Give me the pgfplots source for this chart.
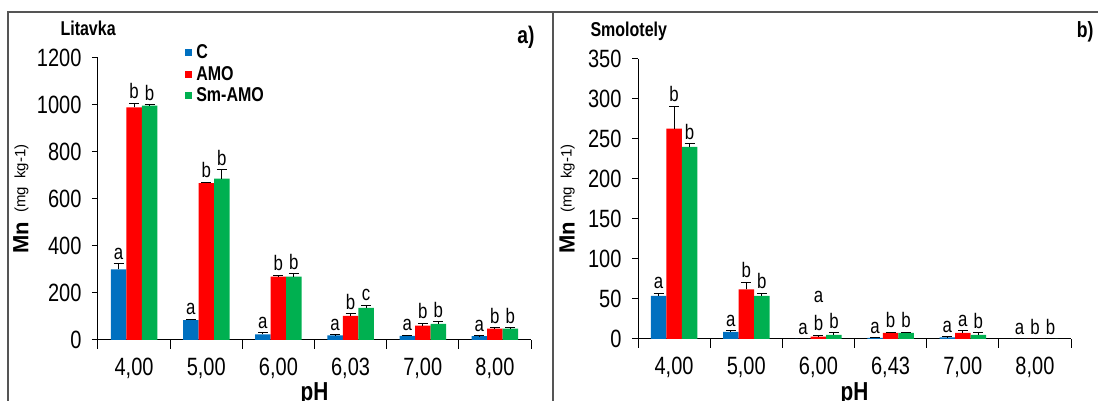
\documentclass[border=0pt]{standalone}
\usepackage{fontspec}
\setmainfont{Liberation Sans}[FakeStretch=0.8]
\newfontfamily\uprightlabel{Liberation Sans}
\usepackage{pgfplots}
\usepackage{pgfplotstable}
\pgfplotsset{compat=1.18}

\definecolor{cblue}{RGB}{0,112,192}
\definecolor{cred}{RGB}{255,0,0}
\definecolor{cgreen}{RGB}{0,176,80}
\definecolor{framegray}{RGB}{85,85,85}

\newcommand\fs[1]{\fontsize{#1}{#1}\selectfont}
% two letters stacked over one bar
\newcommand\stackab{\shortstack{a\\[10pt]b}}

% Litavka: mean, upper error and letter of each treatment
\pgfplotstableread{
x C Ce Cl A Ae Al S Se Sl
0 300 25 a 990 17 b 997 4 b
1 85 4 a 668 4 b 687 38 b
2 24 6 a 270 6 b 270 12 b
3 20 2 a 103 10 b 137 11 c
4 18 2 a 61 10 b 69 10 b
5 16 2 a 48 4 b 48 4 b
}\litavka

% Smolotely
\pgfplotstableread{
x C Ce Cl A Ae Al S Se Sl
0 54 3 a 263 28 b 240 4 b
1 9 1 a 62 9 b 54 3 b
2 0 0 a 3 1.5 {\stackab} 5 2.5 b
3 1.5 0 a 7.5 1 b 7.5 1 b
4 2 0.5 a 7.5 2.5 a 5 3 b
5 0 0 a 0 0 b 0 0 b
}\smolotely

\pgfplotsset{
  panel/.style={
    scale only axis, width=433pt,
    ybar=0pt, bar width=15.5pt,
    xmin=-0.5, xmax=5.5, ymin=0,
    axis x line=bottom, axis y line=left,
    axis line style={-, line width=1pt, black},
    tick align=outside,
    xtick={0,...,5}, minor xtick={-0.5,0.5,...,5.5},
    major x tick style={draw=none},
    tick style={black, line width=1pt},
    major tick length=6pt, minor tick length=9pt,
    /pgf/number format/assume math mode=true,
    /pgf/number format/1000 sep={},
    yticklabel style={font=\fs{25}, xshift=-7pt},
    xticklabel style={font=\fs{25}, yshift=-9pt},
    xlabel={pH},
    every axis y label/.style={rotate=90, anchor=center},
    clip=false,
  },
  % bar with upper error bar and the letter set just above it
  mnbar/.style n args={3}{fill=#1, draw=none,
    nodes near coords, point meta=explicit symbolic,
    nodes near coords align={anchor=south},
    visualization depends on={\thisrow{#2} \as \myerr},
    every node near coord/.append style={font=\fs{21}, inner sep=0pt,
      shift={(axis direction cs:0,\myerr)}, yshift=4pt},
    error bars/.cd, y dir=plus, y explicit,
    error bar style={black, line width=1pt},
    error mark options={rotate=90, black, mark size=5pt, line width=1pt}},
}

\newcommand\mnlabel{{\uprightlabel\bfseries\fs{22}Mn}\hspace{9pt}{\uprightlabel\fs{15}\raisebox{3pt}{(mg~~kg-1)}}}

\begin{document}
\begin{tikzpicture}
\useasboundingbox (0,0) rectangle (1098pt,401pt);
\clip (0,0) rectangle (1098pt,401pt);

% panel frames
\draw[framegray, line width=1.5pt] (8pt,-10pt) rectangle (553pt,389pt);
\draw[framegray, line width=1.5pt] (553pt,-10pt) rectangle (1110pt,389pt);

% ---------- a) Litavka ----------
\begin{axis}[panel,
  at={(98pt,61pt)}, anchor=south west, height=282pt,
  ymax=1200, ytick={0,200,...,1200},
  xticklabels={{4,00},{5,00},{6,00},{6,03},{7,00},{8,00}},
  every axis x label/.style={at={(axis description cs:0.5,-0.2128)}, anchor=base, font=\bfseries\fs{26}},
  ylabel={\mnlabel},
  ylabel style={at={(axis description cs:-0.178,0.5)}},
  legend style={at={(axis description cs:0.2,1.052)}, anchor=north west,
    draw=none, fill=none, font=\bfseries\fs{20}, inner sep=0pt, row sep=3pt,
    column sep=3pt, nodes={inner sep=1.5pt}},
  legend cell align=left,
  legend image code/.code={\fill[#1] (0pt,-3.5pt) rectangle (7pt,3.5pt);},
]
\addplot[mnbar={cblue}{Ce}{}] table[x=x, y=C, y error=Ce, meta=Cl] {\litavka};
\addplot[mnbar={cred}{Ae}{}] table[x=x, y=A, y error=Ae, meta=Al] {\litavka};
\addplot[mnbar={cgreen}{Se}{}] table[x=x, y=S, y error=Se, meta=Sl] {\litavka};
\legend{C,AMO,Sm-AMO}
\end{axis}

% ---------- b) Smolotely ----------
\begin{axis}[panel,
  at={(638pt,62pt)}, anchor=south west, height=280pt,
  ymax=350, ytick={0,50,...,350},
  xticklabels={{4,00},{5,00},{6,00},{6,43},{7,00},{8,00}},
  every axis x label/.style={at={(axis description cs:0.5,-0.218)}, anchor=base, font=\bfseries\fs{26}},
  ylabel={\mnlabel},
  ylabel style={at={(axis description cs:-0.164,0.5)}},
]
\addplot[mnbar={cblue}{Ce}{}] table[x=x, y=C, y error=Ce, meta=Cl] {\smolotely};
\addplot[mnbar={cred}{Ae}{}] table[x=x, y=A, y error=Ae, meta=Al] {\smolotely};
\addplot[mnbar={cgreen}{Se}{}] table[x=x, y=S, y error=Se, meta=Sl] {\smolotely};
\end{axis}

% panel titles and tags
\node[anchor=base west, font=\bfseries\fs{20}] at (57pt,365pt) {Litavka};
\node[anchor=base west, font=\bfseries\fs{20}] at (587pt,364pt) {Smolotely};
\node[anchor=base east, font=\bfseries\fs{24}] at (538pt,357pt) {a)};
\node[anchor=base east, font=\bfseries\fs{22}] at (1097pt,363pt) {b)};
\end{tikzpicture}
\end{document}
